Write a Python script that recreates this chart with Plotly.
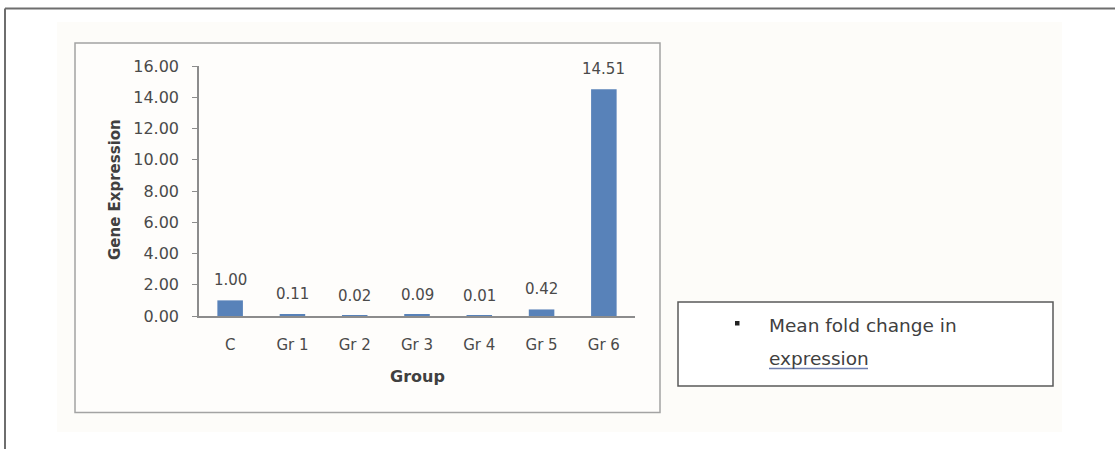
import plotly.graph_objects as go

W, H = 1115, 449

categories = ["C", "Gr 1", "Gr 2", "Gr 3", "Gr 4", "Gr 5", "Gr 6"]
values = [1.00, 0.11, 0.02, 0.09, 0.01, 0.42, 14.51]
value_labels = ["1.00", "0.11", "0.02", "0.09", "0.01", "0.42", "14.51"]
y_ticks = [0, 2, 4, 6, 8, 10, 12, 14, 16]
y_title = "Gene Expression"
x_title = "Group"
legend_line1 = "Mean fold change in"
legend_line2 = "expression"

FONT = "DejaVu Sans"
TXT = "#4a4a4a"
BAR = "#5882b9"
AX = "#8c8c8c"


def px(x):
    return x / W


def py(y):
    return 1 - y / H


fig = go.Figure()
fig.add_trace(go.Bar(
    x=categories, y=values, marker=dict(color=BAR, line=dict(width=0)),
    width=0.41, hoverinfo="skip", showlegend=False,
))

shapes = [
    # outer frame (top and left)
    dict(type="line", xref="paper", yref="paper", x0=px(5), x1=1.0, y0=py(8.5), y1=py(8.5),
         line=dict(color="#6e6e6e", width=2)),
    dict(type="line", xref="paper", yref="paper", x0=px(5), x1=px(5), y0=py(8.5), y1=0,
         line=dict(color="#6e6e6e", width=2)),
    # faint page region
    dict(type="rect", xref="paper", yref="paper", x0=px(57), x1=px(1062), y0=py(22), y1=py(432),
         fillcolor="#fdfcf9", line=dict(width=0), layer="below"),
    # chart box
    dict(type="rect", xref="paper", yref="paper", x0=px(75), x1=px(660), y0=py(43), y1=py(412.5),
         fillcolor="#fefdfb", line=dict(color="#a3a3a3", width=1.5), layer="below"),
    # legend box
    dict(type="rect", xref="paper", yref="paper", x0=px(678), x1=px(1053), y0=py(302), y1=py(386),
         fillcolor="#ffffff", line=dict(color="#5a5a5a", width=1.5), layer="below"),
    # bullet
    dict(type="rect", xref="paper", yref="paper", x0=px(735), x1=px(739.5), y0=py(321), y1=py(325.5),
         fillcolor="#222222", line=dict(width=0)),
    # underline under "expression"
    dict(type="line", xref="paper", yref="paper", x0=px(769), x1=px(868), y0=py(368.5), y1=py(368.5),
         line=dict(color="#6f7fb0", width=1.5)),
]

annotations = []
for c, v, t in zip(categories, values, value_labels):
    annotations.append(dict(
        x=c, y=v, xref="x", yref="y", text=t, showarrow=False,
        yanchor="middle", yshift=20, font=dict(family=FONT, size=15, color=TXT),
    ))

annotations += [
    dict(x=px(115), y=py(190), xref="paper", yref="paper", text="<b>%s</b>" % y_title,
         textangle=-90, showarrow=False, xanchor="center", yanchor="middle",
         font=dict(family=FONT, size=15, color="#404040")),
    dict(x=px(417), y=py(376), xref="paper", yref="paper", text="<b>%s</b>" % x_title,
         showarrow=False, xanchor="center", yanchor="middle",
         font=dict(family=FONT, size=16, color="#404040")),
    dict(x=px(767), y=py(325), xref="paper", yref="paper", text=legend_line1,
         showarrow=False, xanchor="left", yanchor="middle",
         font=dict(family=FONT, size=18.5, color="#404040")),
    dict(x=px(767), y=py(358), xref="paper", yref="paper", text=legend_line2,
         showarrow=False, xanchor="left", yanchor="middle",
         font=dict(family=FONT, size=18.5, color="#404040")),
]

fig.update_layout(
    width=W, height=H, autosize=False,
    margin=dict(l=0, r=0, t=0, b=0, pad=0, autoexpand=False),
    paper_bgcolor="#ffffff", plot_bgcolor="rgba(0,0,0,0)",
    bargap=0.59,
    shapes=shapes, annotations=annotations,
    xaxis=dict(
        domain=[px(199), px(635)], anchor="y", automargin=False,
        showgrid=False, zeroline=False, showline=True, linecolor=AX, linewidth=1.5,
        ticks="", tickfont=dict(family=FONT, size=15, color=TXT),
        ticklabelstandoff=14, fixedrange=True,
    ),
    yaxis=dict(
        domain=[py(316), py(66)], anchor="x", automargin=False,
        range=[0, 16], tickvals=y_ticks, tickformat=".2f",
        showgrid=False, zeroline=False, showline=True, linecolor=AX, linewidth=1.5,
        ticks="outside", ticklen=5, tickcolor=AX, tickwidth=1,
        tickfont=dict(family=FONT, size=16, color=TXT),
        ticklabelstandoff=10, fixedrange=True,
    ),
)

fig.write_html("out.html")
